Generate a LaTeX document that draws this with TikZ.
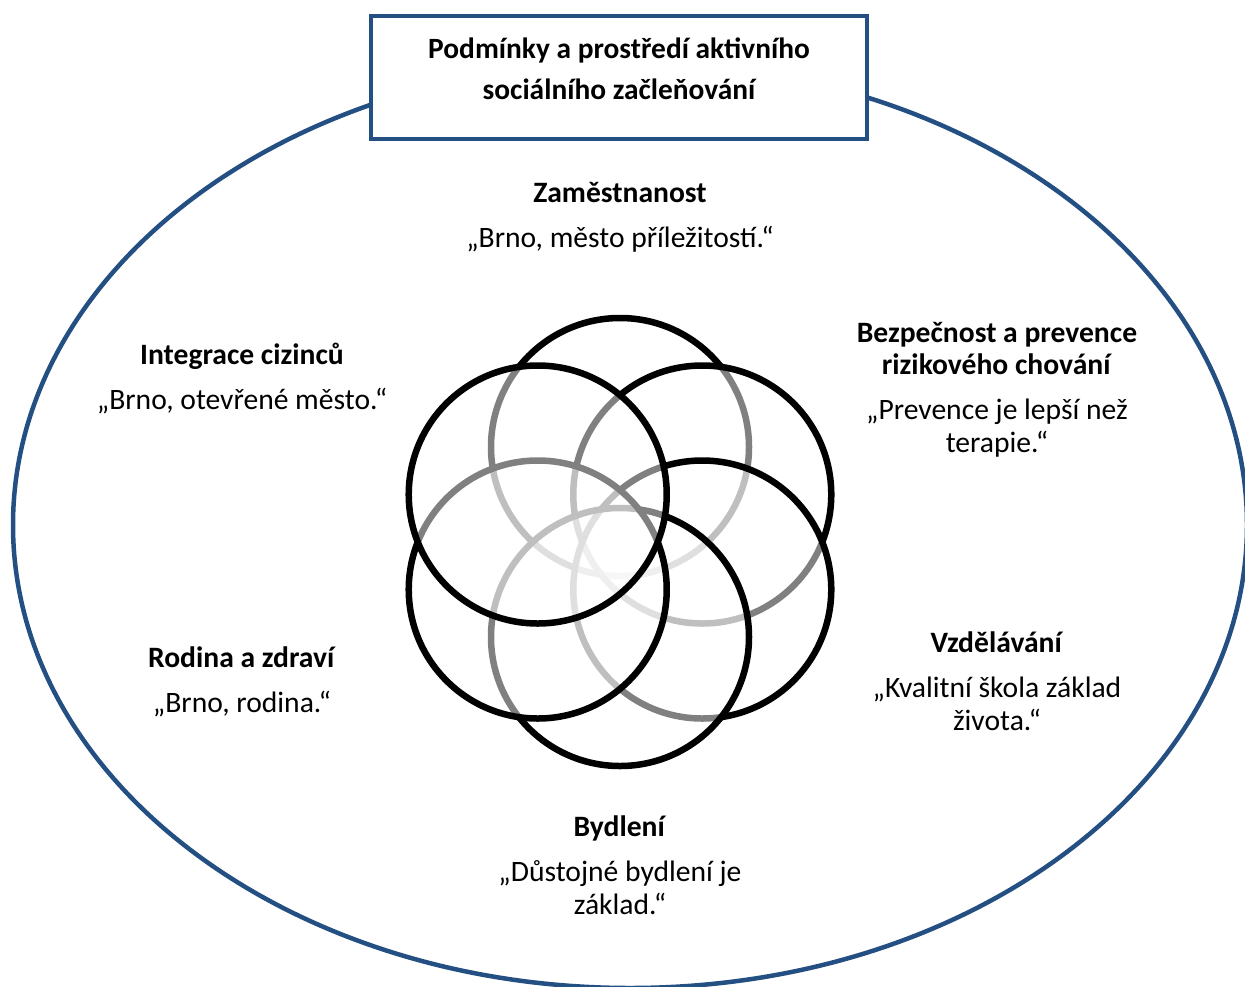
\documentclass[tikz,border=0pt]{standalone}
\usepackage{fontspec}
\setmainfont{Carlito}
\usetikzlibrary{shapes,calc}
\definecolor{frameblue}{RGB}{36,79,130}

\begin{document}
\begin{tikzpicture}[x=1pt,y=-1pt]
  \tikzstyle{every node}=[font=\fontsize{29.6}{32.5}\selectfont,align=center,inner sep=0pt];
  \tikzstyle{ring}=[circle,draw=black,line width=6.5pt,fill=white,fill opacity=0.5,minimum size=258pt];
  \tikzstyle{frame}=[draw=frameblue,line width=4.5pt];
  \useasboundingbox (0,0) rectangle (1245,986);
  \draw[frame] (630,525) ellipse [x radius=617pt,y radius=463pt];
  \node[frame,fill=white,minimum width=496pt,minimum height=123pt] (titlebox) at (619,77.5) {};
  \node[font=\fontsize{29.4}{41}\selectfont\bfseries] (title) at (619,69) {Podmínky a prostředí aktivního\\sociálního začleňování};
  % six rings, drawn clockwise from the top
  \coordinate (mid) at (620,542);
  \foreach \name/\ang in {top/-90,upright/-30,lowright/30,bottom/90,lowleft/150,upleft/210}{
    \node[ring] (\name) at ($(mid)+(\ang:95)$) {};
  }
  \node (jobs) at (620,217.5) {\textbf{Zaměstnanost}\\[12.5pt]„Brno, město příležitostí.“};
  \node (aliens) at (242,378) {\textbf{Integrace cizinců}\\[12.5pt]„Brno, otevřené město.“};
  \node (safety) at (997,389.5) {\textbf{Bezpečnost a prevence}\\\textbf{rizikového chování}\\[12.5pt]„Prevence je lepší než\\terapie.“};
  \node (school) at (997,681) {\textbf{Vzdělávání}\\[12.5pt]„Kvalitní škola základ\\života.“};
  \node (family) at (242,681.5) {\textbf{Rodina a zdraví}\\[12.5pt]„Brno, rodina.“};
  \node (housing) at (620,865) {\textbf{Bydlení}\\[12.5pt]„Důstojné bydlení je\\základ.“};
\end{tikzpicture}
\end{document}
